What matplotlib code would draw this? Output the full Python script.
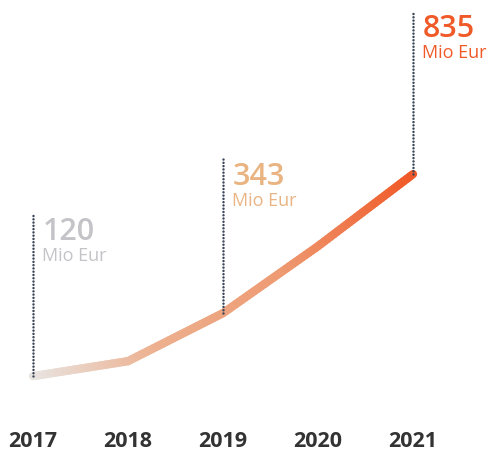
import numpy as np
import matplotlib.pyplot as plt
from matplotlib.collections import LineCollection
from matplotlib.colors import LinearSegmentedColormap

years = [2017, 2018, 2019, 2020, 2021]
values = [120, 173, 343, 580, 835]
year_labels = ["2017", "2018", "2019", "2020", "2021"]

# annotated points: year, value, top of dotted line, colour
notes_years = [2017, 2019, 2021]
notes_values = [120, 343, 835]
notes_top = [694, 888, 1412]
notes_colors = ["#c4c4c8", "#e9b482", "#f05a28"]

plt.rcParams['font.family'] = ['Open Sans', 'DejaVu Sans']

fig = plt.figure(figsize=(4.89, 4.52), dpi=100)
ax = fig.add_axes([0, 0, 1, 1])
ax.set_xlim(2016.653, 2021.8)
ax.set_ylim(-145, 1455)
ax.axis('off')

# gradient line
cmap = LinearSegmentedColormap.from_list(
    "grad", ["#e8e5e2", "#edb08e", "#ee9a72", "#f05a28"])
x = np.array(years, dtype=float)
y = np.array(values, dtype=float)
xs, ys = [], []
for i in range(len(x) - 1):
    t = np.linspace(0, 1, 30, endpoint=False)
    xs.extend(x[i] + t * (x[i + 1] - x[i]))
    ys.extend(y[i] + t * (y[i + 1] - y[i]))
xs.append(x[-1])
ys.append(y[-1])
pts = np.column_stack([xs, ys]).reshape(-1, 1, 2)
segs = np.concatenate([pts[:-1], pts[1:]], axis=1)
lc = LineCollection(segs, cmap=cmap, linewidths=6, capstyle='round',
                    joinstyle='round', zorder=2)
lc.set_array((np.array(xs[:-1]) - x[0]) / (x[-1] - x[0]))
ax.add_collection(lc)

for yr, v, top, c in zip(notes_years, notes_values, notes_top, notes_colors):
    ax.plot([yr, yr], [v, top], color="#3b4658", lw=1.8,
            linestyle=(0, (0.01, 1.3)), dash_capstyle='round', zorder=3)
    ax.text(yr + 0.1, top - 6, str(v), color=c, fontsize=22,
            fontweight='semibold', va='top', ha='left')
    ax.text(yr + 0.1, top - 112, "Mio Eur", color=c, fontsize=13,
            va='top', ha='left')

for yr, lab in zip(years, year_labels):
    ax.text(yr, -108, lab, color="#333333", fontsize=15.5, fontweight='bold',
            ha='center', va='center')

fig.savefig("out.png", dpi=100)
